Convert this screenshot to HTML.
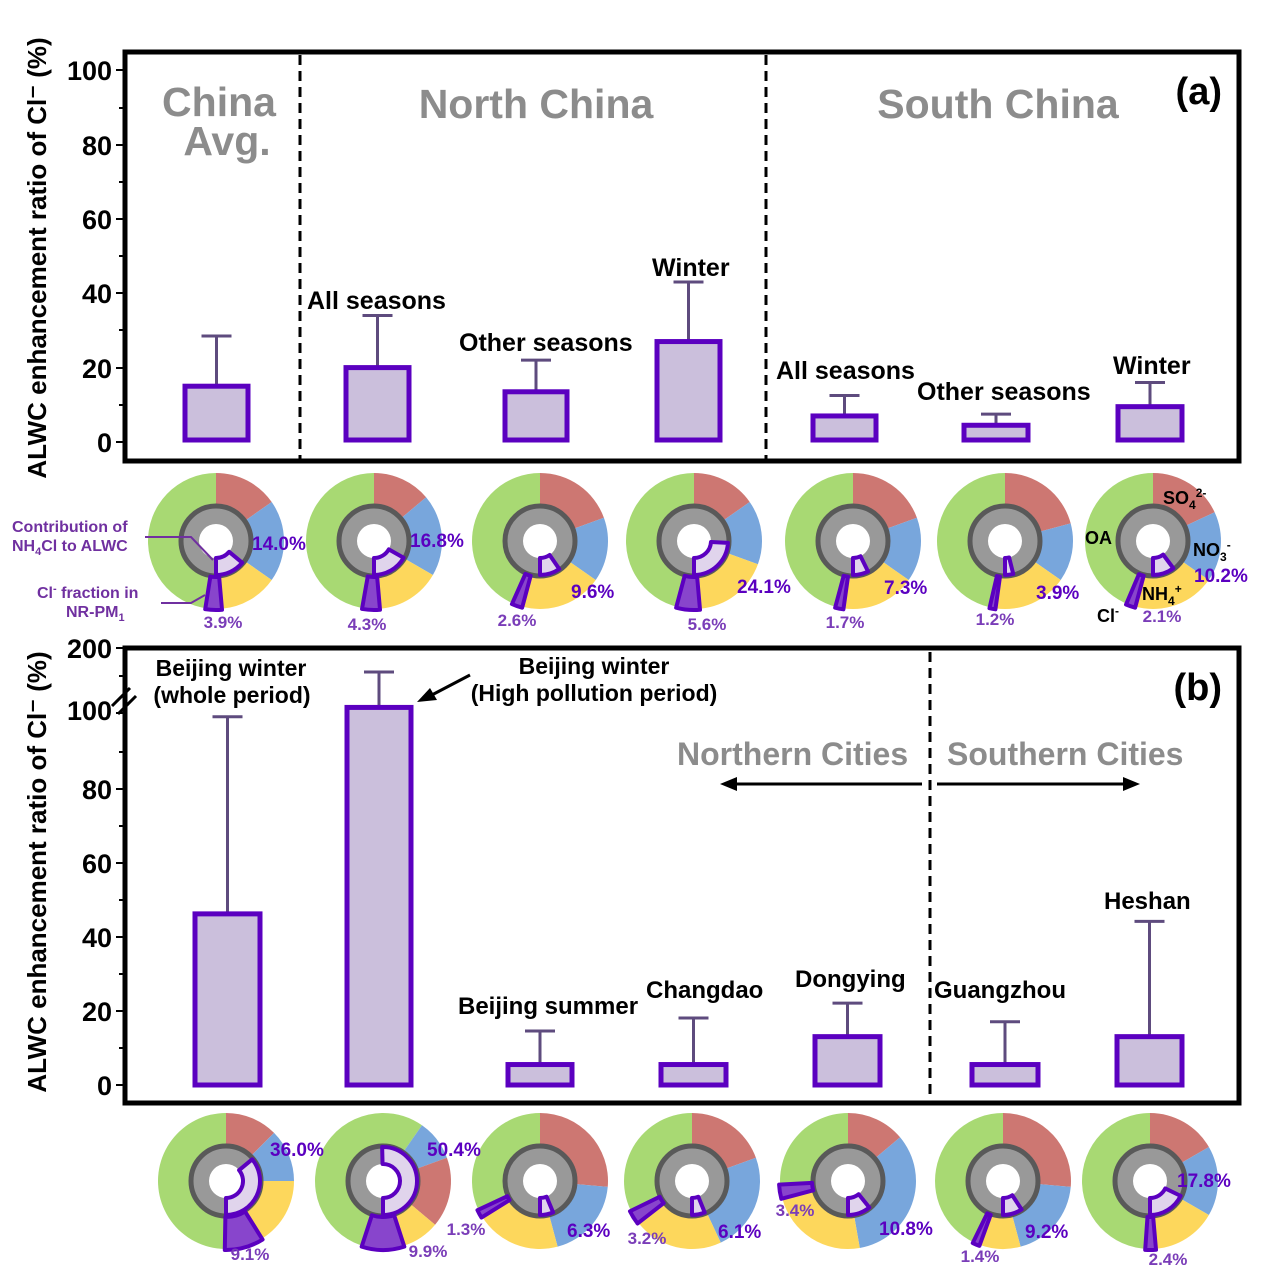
<!DOCTYPE html>
<html><head><meta charset="utf-8"><style>
html,body{margin:0;padding:0;background:#fff}
svg{display:block;font-family:"Liberation Sans",Arial,sans-serif;font-weight:bold}
.t{font-size:25px;fill:#000}
.g{fill:#8c8c8c}
.ax{font-size:27px;fill:#000}
.p{fill:#5b00c0;font-size:19px}
.c{fill:#7a3db8;font-size:17px}
</style></head><body>
<svg id="s" width="1268" height="1281" viewBox="0 0 1268 1281" xmlns="http://www.w3.org/2000/svg">
<rect x="125" y="52" width="1114" height="409" fill="none" stroke="#000" stroke-width="5"/>
<line x1="300" y1="55" x2="300" y2="459" stroke="#000" stroke-width="3" stroke-dasharray="10,6"/>
<line x1="766" y1="55" x2="766" y2="459" stroke="#000" stroke-width="3" stroke-dasharray="10,6"/>
<g stroke="#000" stroke-width="2">
<line x1="116" y1="70" x2="125" y2="70"/><line x1="116" y1="145" x2="125" y2="145"/><line x1="116" y1="219" x2="125" y2="219"/><line x1="116" y1="293" x2="125" y2="293"/><line x1="116" y1="368" x2="125" y2="368"/><line x1="116" y1="442" x2="125" y2="442"/>
<line x1="119" y1="108" x2="125" y2="108"/><line x1="119" y1="182" x2="125" y2="182"/><line x1="119" y1="256" x2="125" y2="256"/><line x1="119" y1="330" x2="125" y2="330"/><line x1="119" y1="405" x2="125" y2="405"/>
</g>
<g class="ax" text-anchor="end">
<text x="112" y="80">100</text><text x="112" y="155">80</text><text x="112" y="229">60</text><text x="112" y="303">40</text><text x="112" y="378">20</text><text x="112" y="452">0</text>
</g>
<text font-size="26" transform="translate(46,258) rotate(-90)" text-anchor="middle">ALWC enhancement ratio of Cl⁻ (%)</text>
<g class="g" font-size="41" text-anchor="middle">
<text x="219" y="116">China</text><text x="227" y="155">Avg.</text>
<text x="536" y="118">North China</text><text x="998" y="118">South China</text>
</g>
<text x="1222" y="104" font-size="38" text-anchor="end">(a)</text>
<g class="t">
<text x="307" y="309">All seasons</text><text x="459" y="351">Other seasons</text><text x="652" y="276">Winter</text>
<text x="776" y="379">All seasons</text><text x="917" y="400">Other seasons</text><text x="1113" y="374">Winter</text>
</g>
<rect x="125" y="648" width="1114" height="455" fill="none" stroke="#000" stroke-width="5"/>
<line x1="930" y1="652" x2="930" y2="1100" stroke="#000" stroke-width="3" stroke-dasharray="10,6"/>
<g stroke="#000" stroke-width="2">
<line x1="116" y1="648" x2="125" y2="648"/><line x1="119" y1="676" x2="125" y2="676"/><line x1="116" y1="713" x2="125" y2="713"/>
<line x1="116" y1="789" x2="125" y2="789"/><line x1="116" y1="863" x2="125" y2="863"/><line x1="116" y1="937" x2="125" y2="937"/><line x1="116" y1="1011" x2="125" y2="1011"/><line x1="116" y1="1085" x2="125" y2="1085"/>
<line x1="119" y1="752" x2="125" y2="752"/><line x1="119" y1="826" x2="125" y2="826"/><line x1="119" y1="900" x2="125" y2="900"/><line x1="119" y1="974" x2="125" y2="974"/><line x1="119" y1="1048" x2="125" y2="1048"/>
</g>
<g stroke="#000" stroke-width="3"><line x1="112" y1="706" x2="130" y2="688"/><line x1="118" y1="714" x2="136" y2="696"/></g>
<g class="ax" text-anchor="end">
<text x="112" y="658">200</text><text x="112" y="720">100</text><text x="112" y="799">80</text><text x="112" y="873">60</text><text x="112" y="947">40</text><text x="112" y="1021">20</text><text x="112" y="1095">0</text>
</g>
<text font-size="26" transform="translate(46,872) rotate(-90)" text-anchor="middle">ALWC enhancement ratio of Cl⁻ (%)</text>
<text x="1222" y="700" font-size="38" text-anchor="end">(b)</text>
<g class="g" font-size="32"><text x="677" y="765">Northern Cities</text><text x="947" y="765">Southern Cities</text></g>
<g stroke="#000" stroke-width="3"><line x1="735" y1="784" x2="922" y2="784"/><line x1="937" y1="784" x2="1125" y2="784"/></g>
<polygon points="720,784 737,777 737,791" fill="#000"/><polygon points="1140,784 1123,777 1123,791" fill="#000"/>
<line x1="470" y1="675" x2="428" y2="697" stroke="#000" stroke-width="3"/><polygon points="417,702 430,688 437,700" fill="#000"/>
<g font-size="23">
<text x="231" y="676" text-anchor="middle">Beijing winter</text><text x="232" y="703" text-anchor="middle">(whole period)</text>
<text x="594" y="674" text-anchor="middle">Beijing winter</text><text x="594" y="701" text-anchor="middle">(High pollution period)</text>
</g>
<g font-size="24">
<text x="458" y="1014">Beijing summer</text><text x="646" y="998">Changdao</text><text x="795" y="987">Dongying</text><text x="934" y="998">Guangzhou</text><text x="1104" y="909">Heshan</text>
</g>
<g id="bars"></g>
<g id="pies"></g>
<g class="p">
<text x="252" y="550">14.0%</text><text x="410" y="547">16.8%</text><text x="571" y="598">9.6%</text><text x="737" y="593">24.1%</text><text x="884" y="594">7.3%</text><text x="1036" y="599">3.9%</text><text x="1194" y="582">10.2%</text>
<text x="270" y="1156">36.0%</text><text x="427" y="1156">50.4%</text><text x="567" y="1237">6.3%</text><text x="718" y="1238">6.1%</text><text x="879" y="1235">10.8%</text><text x="1025" y="1238">9.2%</text><text x="1177" y="1187">17.8%</text>
</g>
<g class="c" text-anchor="middle">
<text x="223" y="628">3.9%</text><text x="367" y="630">4.3%</text><text x="517" y="626">2.6%</text><text x="707" y="630">5.6%</text><text x="845" y="628">1.7%</text><text x="995" y="625">1.2%</text><text x="1162" y="622">2.1%</text>
<text x="250" y="1260">9.1%</text><text x="428" y="1257">9.9%</text><text x="466" y="1235">1.3%</text><text x="647" y="1244">3.2%</text><text x="795" y="1216">3.4%</text><text x="980" y="1262">1.4%</text><text x="1168" y="1265">2.4%</text>
</g>
<g fill="#7030a0" font-size="16">
<text x="12" y="532">Contribution of</text><text x="12" y="551">NH<tspan font-size="11" dy="4">4</tspan><tspan dy="-4">Cl to ALWC</tspan></text>
<text x="37" y="598">Cl<tspan font-size="11" dy="-6">-</tspan><tspan dy="6"> fraction in</tspan></text><text x="66" y="617">NR-PM<tspan font-size="11" dy="4">1</tspan></text>
</g>
<polyline points="145,537 191,537 213,560" fill="none" stroke="#7030a0" stroke-width="2"/>
<polyline points="161,603 191,603 205,595" fill="none" stroke="#7030a0" stroke-width="2"/>
<g font-size="18" fill="#000">
<text x="1163" y="504">SO<tspan font-size="12" dy="5">4</tspan><tspan font-size="12" dy="-12">2-</tspan></text>
<text x="1085" y="544">OA</text>
<text x="1193" y="556">NO<tspan font-size="12" dy="5">3</tspan><tspan font-size="12" dy="-12">-</tspan></text>
<text x="1142" y="600">NH<tspan font-size="12" dy="5">4</tspan><tspan font-size="12" dy="-12">+</tspan></text>
<text x="1097" y="622">Cl<tspan font-size="12" dy="-7">-</tspan></text>
</g>
</svg>
<script>
var NS="http://www.w3.org/2000/svg";
function el(p,t,a){var e=document.createElementNS(NS,t);for(var k in a)e.setAttribute(k,a[k]);p.appendChild(e);return e;}
var bars=document.getElementById('bars');
function bar(x1,x2,y0,top,err){var cx=(x1+x2)/2;
 el(bars,'line',{x1:cx,y1:top,x2:cx,y2:err,stroke:'#5e4b7e','stroke-width':3});
 el(bars,'line',{x1:cx-15,y1:err,x2:cx+15,y2:err,stroke:'#5e4b7e','stroke-width':3});
 el(bars,'rect',{x:x1,y:top,width:x2-x1,height:y0-top,fill:'#cbbfdc',stroke:'#5b00c0','stroke-width':5});}
function ya(v){return 442-v*3.72;} function yb(v){return 1085-v*3.72;}
[[185,248,15,28.5],[346,409,20,34],[505,567,13.5,22],[657,720,27,43],[813,876,7,12.5],[964,1028,4.5,7.5],[1118,1182,9.5,16]].forEach(function(b){bar(b[0],b[1],440,ya(b[2]),ya(b[3]));});
[[195,260,46,99],[347,411,101.5,-1],[508,572,5.5,14.5],[661,726,5.5,18],[815,880,13,22],[972,1038,5.5,17],[1117,1182,13,44]].forEach(function(b){bar(b[0],b[1],1085,yb(b[2]),b[3]<0?672:yb(b[3]));});
var pies=document.getElementById('pies');
function pt(cx,cy,r,a){var t=a*Math.PI/180;return [cx+r*Math.sin(t),cy-r*Math.cos(t)];}
function sec(cx,cy,r0,r1,a0,a1){var l=(a1-a0)>180?1:0;var p=pt(cx,cy,r1,a0),q=pt(cx,cy,r1,a1),s=pt(cx,cy,r0,a1),u=pt(cx,cy,r0,a0);
 return 'M'+p+' A'+r1+','+r1+' 0 '+l+' 1 '+q+' L'+s+' A'+r0+','+r0+' 0 '+l+' 0 '+u+'Z';}
var C={r:'#cd7772',b:'#78a6dc',y:'#fdd75c',g:'#a8d973'};
function pie(cx,cy,segs,cl,lav){var a=0;
 segs.forEach(function(s){el(pies,'path',{d:sec(cx,cy,0.01,68,a,s[1]),fill:C[s[0]]});a=s[1];});
 el(pies,'path',{d:sec(cx,cy,0.01,68,a,360),fill:C.g});
 el(pies,'circle',{cx:cx,cy:cy,r:35,fill:'#999',stroke:'#595959','stroke-width':5});
 el(pies,'circle',{cx:cx,cy:cy,r:17,fill:'#fff'});
 el(pies,'path',{d:sec(cx,cy,17,34,180-lav*3.6,180),fill:'#e0d4ec',stroke:'#5b00c0','stroke-width':4,'stroke-linejoin':'round'});
 el(pies,'path',{d:sec(cx,cy,36,69,cl[0],cl[1]),fill:'#8845cc',stroke:'#5b00c0','stroke-width':4,'stroke-linejoin':'round'});}
var T=541,B=1181;
pie(216,T,[['r',55],['b',125],['y',175]],[175,189],14.0);
pie(374,T,[['r',50],['b',120],['y',175]],[175,190],16.8);
pie(540,T,[['r',70],['b',125],['y',195]],[195,204],9.6);
pie(694,T,[['r',55],['b',110],['y',175]],[175,195],24.1);
pie(853,T,[['r',70],['b',125],['y',188]],[188,195],7.3);
pie(1005,T,[['r',75],['b',125],['y',188]],[188,193],3.9);
pie(1153,T,[['r',65],['b',125],['y',195]],[195,203],10.2);
pie(226,B,[['r',45],['b',90],['y',148]],[148,181],36.0);
pie(383,B,[['g',35],['b',70],['r',130],['y',162]],[162,198],50.4);
pie(540,B,[['r',95],['b',165],['y',238]],[238,245],6.3);
pie(692,B,[['r',70],['b',155],['y',232]],[232,244],6.1);
pie(848,B,[['r',50],['b',170],['y',255]],[255,267],10.8);
pie(1003,B,[['r',95],['b',165],['y',200]],[200,206],9.2);
pie(1150,B,[['r',60],['b',120],['y',175]],[175,184],17.8);
</script>
</body></html>
